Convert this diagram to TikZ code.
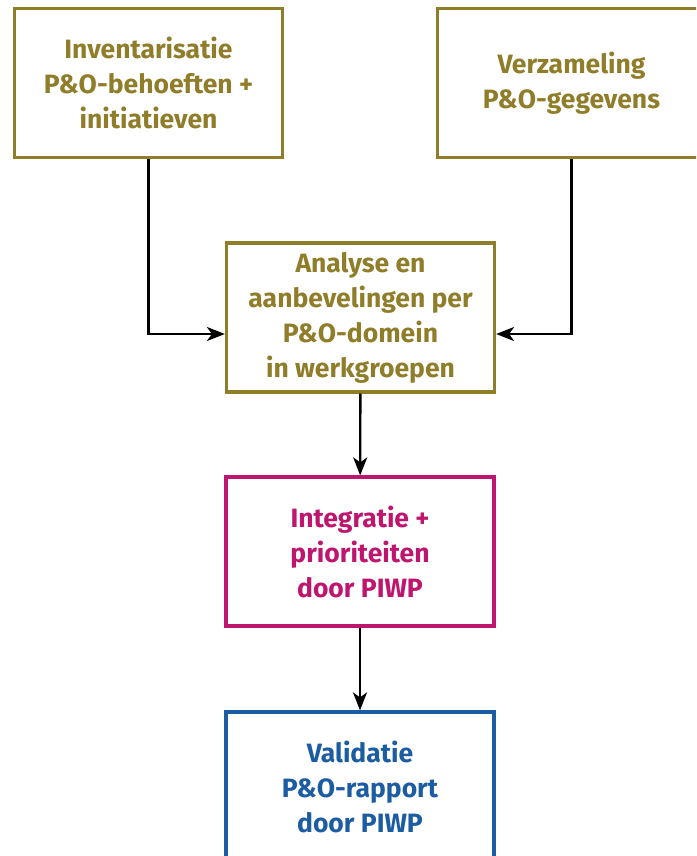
\documentclass[tikz,border=0pt]{standalone}
\usepackage{fontspec}
\setmainfont{Fira Sans}
\usepackage{tikz}
\usetikzlibrary{positioning}
\usetikzlibrary{arrows.meta}

\definecolor{olijf}{RGB}{143,125,42}
\definecolor{magenta}{RGB}{190,22,110}
\definecolor{blauw}{RGB}{28,92,162}

\tikzset{
	stap/.style={rectangle, draw=#1, line width=3.2pt, text=#1, minimum width=268pt, minimum height=149pt, align=center, font=\bfseries\fontsize{26.5}{35}\selectfont},
	pijl/.style={line width=2.4pt, -{Stealth[length=18pt,width=14pt,inset=5pt]}}
}

\begin{document}
\begin{tikzpicture}[x=1pt,y=-1pt]
				\clip (0,0) rectangle (696,856);
				\useasboundingbox (0,0) rectangle (696,856);
				\node[stap=olijf] (inv) at (148.5,83) {Inventarisatie\\P\&O-behoeften +\\initiatieven};
				\node[stap=olijf] (verz) at (571.5,83) {Verzameling\\P\&O-gegevens};
				\node[stap=olijf] (anal) at (360.5,317.5) {Analyse en\\aanbevelingen per\\P\&O-domein\\in werkgroepen};
				\node[stap=magenta] (integ) at (360,551.5) {Integratie +\\prioriteiten\\door PIWP};
				\node[stap=blauw] (valid) at (360,786.5) {Validatie\\P\&O-rapport\\door PIWP};
				\coordinate (hoogte) at (0,334);
				
				\draw[pijl] (inv.south) |- (anal.west |- hoogte);
				\draw[pijl] (verz.south) |- (anal.east |- hoogte);
				\draw[pijl] (anal) -- (integ);
				\draw[pijl] (integ) -- (valid);
			\end{tikzpicture}
\end{document}
